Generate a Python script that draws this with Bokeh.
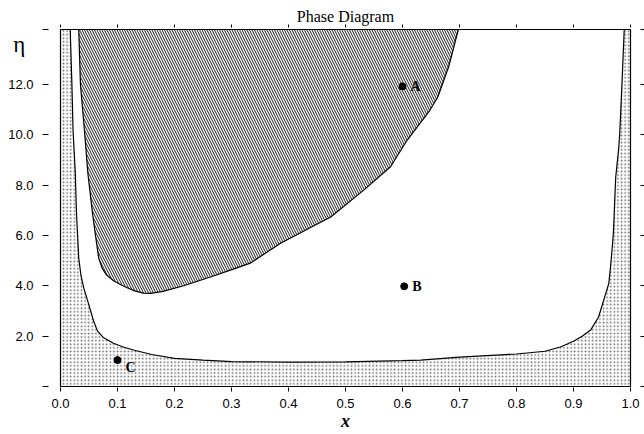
from bokeh.plotting import figure
from bokeh.models import (ColumnDataSource, LinearAxis, FixedTicker, PrintfTickFormatter,
                          Range1d)
from bokeh.core.properties import value
from bokeh.embed import file_html
from bokeh.resources import INLINE

# ---------------- data ----------------
Y_TOP = 14.18
x_ticks = [0.0, 0.1, 0.2, 0.3, 0.4, 0.5, 0.6, 0.7, 0.8, 0.9, 1.0]
y_ticks = [0, 2, 4, 6, 8, 10, 12, Y_TOP]
y_labelled_ticks = [2, 4, 6, 8, 10, 12]
title_text = "Phase Diagram"
x_label = "x"
y_label = "η"

# outer (lower) phase boundary, left top -> bottom -> right top
outer_x = [0.017, 0.020, 0.022, 0.026, 0.028, 0.032, 0.036, 0.041, 0.049, 0.058,
           0.065, 0.075, 0.093, 0.110, 0.128, 0.160, 0.200, 0.250, 0.300, 0.400,
           0.500, 0.600, 0.632, 0.700, 0.800, 0.850, 0.877, 0.900, 0.915, 0.930,
           0.944, 0.953, 0.958, 0.962, 0.966, 0.970, 0.974, 0.979, 0.981, 0.985,
           0.989]
outer_eta = [Y_TOP, 12.0, 10.17, 8.47, 6.9, 5.1, 4.4, 3.9, 3.3, 2.6,
             2.2, 1.95, 1.72, 1.57, 1.45, 1.27, 1.12, 1.05, 0.99, 0.97,
             0.98, 1.03, 1.05, 1.17, 1.29, 1.40, 1.57, 1.80, 2.0, 2.24,
             2.76, 3.43, 3.8, 4.10, 5.0, 6.1, 8.3, 9.38, 10.0, 12.0,
             Y_TOP]

# inner (hatched) region boundary, left top -> minimum -> right top
inner_x = [0.032, 0.035, 0.042, 0.048, 0.056, 0.062, 0.067, 0.073, 0.080, 0.093,
           0.105, 0.117, 0.130, 0.145, 0.158, 0.180, 0.216, 0.263, 0.298, 0.333,
           0.386, 0.474, 0.532, 0.579, 0.608, 0.648, 0.662, 0.681, 0.698]
inner_eta = [Y_TOP, 12.0, 10.17, 8.47, 6.9, 5.9, 5.1, 4.7, 4.45, 4.2,
             4.05, 3.92, 3.8, 3.71, 3.70, 3.78, 4.0, 4.35, 4.62, 4.9,
             5.69, 6.73, 7.8, 8.73, 9.78, 10.97, 11.5, 12.7, Y_TOP]

point_names = ["A", "B", "C"]
point_x = [0.600, 0.603, 0.100]
point_eta = [11.92, 3.98, 1.05]

# ---------------- figure ----------------
p = figure(width=644, height=434, output_backend="svg", toolbar_location=None,
           x_range=Range1d(0, 1), y_range=Range1d(0, Y_TOP),
           min_border_left=60, min_border_right=14, min_border_top=29,
           min_border_bottom=48, background_fill_color="white",
           border_fill_color="white")
p.grid.visible = False
p.outline_line_color = "black"
p.outline_line_width = 1.2

label_font = "Liberation Sans"

# bottom axis (ticks + numbers + title)
xa = p.xaxis[0]
xa.ticker = FixedTicker(ticks=x_ticks)
xa.formatter = PrintfTickFormatter(format="%.1f")
xa.minor_tick_line_color = None
xa.axis_line_color = None
xa.major_tick_in = -1
xa.major_tick_out = 5
xa.major_label_standoff = 7
xa.major_label_text_font = label_font
xa.major_label_text_font_size = "13px"
xa.major_label_text_color = "black"
xa.axis_label = x_label
xa.axis_label_standoff = 0
xa.axis_label_text_font = "Liberation Serif"
xa.axis_label_text_font_style = "bold italic"
xa.axis_label_text_font_size = "18px"
xa.axis_label_text_color = "black"

# left axis: tick marks only (inner)
ya = p.yaxis[0]
ya.ticker = FixedTicker(ticks=y_ticks)
ya.major_label_overrides = {t: "" for t in y_ticks}
ya.minor_tick_line_color = None
ya.axis_line_color = None
ya.major_tick_in = -12
ya.major_tick_out = 18
ya.major_label_standoff = 0

# left axis: numbers and eta (outer)
ylab = LinearAxis(ticker=FixedTicker(ticks=y_labelled_ticks),
                  formatter=PrintfTickFormatter(format="%.1f"),
                  axis_line_color=None, major_tick_line_color=None,
                  minor_tick_line_color=None, major_tick_in=0, major_tick_out=0,
                  major_label_standoff=9, major_label_text_font=label_font,
                  major_label_text_font_size="13px", major_label_text_color="black",
                  axis_label="\n" + y_label, axis_label_orientation="horizontal",
                  axis_label_align="end", axis_label_standoff=-20,
                  axis_label_text_font="Liberation Serif",
                  axis_label_text_font_style="normal",
                  axis_label_text_font_size="23px", axis_label_text_color="black")
p.add_layout(ylab, "left")

# top axis: tick marks, title written as the label of the middle tick
top = LinearAxis(ticker=FixedTicker(ticks=x_ticks),
                 major_label_overrides={t: (title_text if t == 0.5 else "") for t in x_ticks},
                 major_label_text_font="Liberation Serif",
                 major_label_text_font_size="16px", major_label_text_color="black",
                 axis_line_color=None, minor_tick_line_color=None,
                 major_tick_in=-2, major_tick_out=5, major_label_standoff=0)
p.add_layout(top, "above")

# right axis: tick marks only
right = LinearAxis(ticker=FixedTicker(ticks=y_ticks),
                   major_label_overrides={t: "" for t in y_ticks},
                   axis_line_color=None, minor_tick_line_color=None,
                   major_tick_in=-10, major_tick_out=14, major_label_standoff=0)
p.add_layout(right, "right")

# dotted region (outside outer boundary)
dot_x = [0, 0, 1, 1] + outer_x[::-1]
dot_y = [Y_TOP, 0, 0, Y_TOP] + outer_eta[::-1]
p.patch(dot_x, dot_y, fill_alpha=0, line_color=None,
        hatch_pattern="dot", hatch_color="black", hatch_scale=3.6,
        hatch_weight=0.6, hatch_alpha=0.6)
p.line(outer_x, outer_eta, line_color="black", line_width=1.2)

# hatched region
p.patch(inner_x, inner_eta, fill_alpha=0, line_color="black", line_width=1.2,
        hatch_pattern="left_diagonal_line", hatch_color="black",
        hatch_scale=5, hatch_weight=0.9)

# points
src = ColumnDataSource(dict(x=point_x, y=point_eta, name=point_names,
                            dx=[8, 8, 8], dy=[0, 0, 7]))
p.scatter("x", "y", source=src, size=7, color="black")
p.text("x", "y", text="name", source=src, x_offset="dx", y_offset="dy",
       text_font=value("Liberation Serif"), text_font_style="bold",
       text_font_size="14px", text_baseline="middle", text_align="left",
       text_color="black")

open("out.html", "w").write(file_html(p, INLINE))
